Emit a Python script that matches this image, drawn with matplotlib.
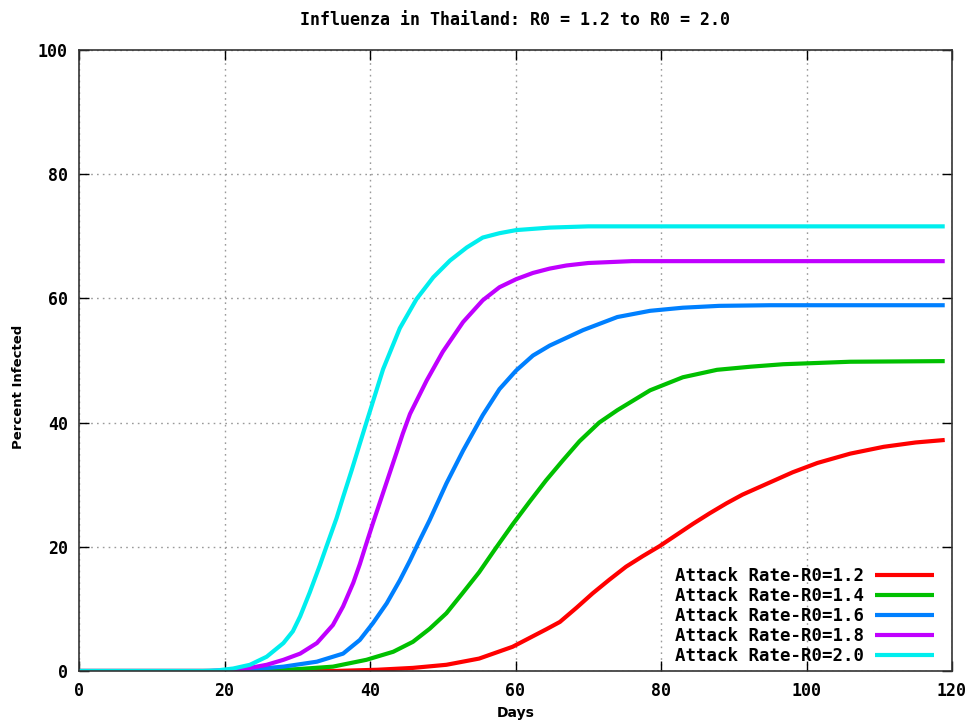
import matplotlib
matplotlib.use("Agg")
import matplotlib.pyplot as plt

title = "Influenza in Thailand: R0 = 1.2 to R0 = 2.0"
x_label = "Days"
y_label = "Percent Infected"
x_ticks = [0, 20, 40, 60, 80, 100, 120]
y_ticks = [0, 20, 40, 60, 80, 100]

labels = ["Attack Rate-R0=1.2", "Attack Rate-R0=1.4", "Attack Rate-R0=1.6",
          "Attack Rate-R0=1.8", "Attack Rate-R0=2.0"]
colors = ["#ff0000", "#00c000", "#0080ff", "#c000ff", "#00eeee"]

days_r12 = [0, 35, 41, 45.9, 50.5, 55, 59.6, 61.9, 64.2, 66.1, 68.4, 70.6, 72.9, 75.2, 77.5,
            79.8, 82.1, 84.4, 86.7, 89, 91.2, 93.5, 95.8, 98.1, 101.5, 106, 110.6, 115, 119]
vals_r12 = [0, 0, 0.2, 0.5, 1, 2, 3.9, 5.3, 6.7, 7.9, 10.2, 12.5, 14.7, 16.8, 18.5,
            20.1, 21.9, 23.7, 25.4, 27, 28.4, 29.6, 30.8, 32, 33.5, 35, 36.1, 36.8, 37.2]

days_r14 = [0, 25, 30, 34.9, 39.5, 43.2, 45.9, 48.2, 50.5, 52.7, 55, 57.3, 59.6, 61.9, 64.2,
            66.5, 68.8, 71.5, 74, 78.5, 83, 87.7, 92.3, 96.8, 106, 119]
vals_r14 = [0, 0, 0.3, 0.7, 1.8, 3.1, 4.7, 6.8, 9.3, 12.5, 15.9, 19.8, 23.6, 27.2, 30.7,
            33.9, 37.0, 40, 42, 45.2, 47.3, 48.5, 49, 49.4, 49.8, 49.9]

days_r16 = [0, 20, 24, 28.1, 32.7, 36.3, 38.6, 40.4, 42.3, 44.1, 45.5, 46.6, 48.2, 50.5, 52.8,
            55.5, 57.8, 60.1, 62.4, 64.7, 69.3, 74, 78.5, 83, 88, 95, 119]
vals_r16 = [0, 0, 0.3, 0.7, 1.5, 2.8, 5, 7.7, 10.9, 14.6, 17.8, 20.5, 24.3, 30.2, 35.5,
            41.2, 45.4, 48.4, 50.8, 52.4, 54.9, 57, 58, 58.5, 58.8, 58.9, 58.9]

days_r18 = [0, 18, 21, 23.5, 25.8, 28.1, 30.4, 32.7, 34.9, 36.3, 37.7, 38.6, 39.3, 40.4, 41.6,
            42.6, 43.6, 44.5, 45.5, 47.8, 50, 52.8, 55.5, 57.8, 60.1, 62.4, 64.7, 67, 70, 76, 119]
vals_r18 = [0, 0, 0.2, 0.5, 1, 1.8, 2.8, 4.5, 7.4, 10.4, 14.2, 17.2, 19.8, 23.8, 28,
            31.5, 35, 38.2, 41.4, 46.8, 51.4, 56.2, 59.7, 61.8, 63.1, 64.1, 64.8, 65.3, 65.7, 66, 66]

days_r20 = [0, 17, 19, 21.2, 23.5, 25.8, 28.1, 29.4, 30.4, 31.7, 33.1, 34, 35.4, 36.3, 37.5,
            38.6, 39.5, 41.8, 44.1, 46.4, 48.7, 51, 53.3, 55.5, 57.8, 60.1, 64.7, 70, 119]
vals_r20 = [0, 0, 0.1, 0.4, 1, 2.3, 4.5, 6.4, 8.8, 12.6, 17, 20, 24.6, 28, 32.4,
            36.6, 40, 48.6, 55.2, 59.9, 63.4, 66.1, 68.2, 69.8, 70.5, 71, 71.4, 71.6, 71.6]

series = [(days_r12, vals_r12), (days_r14, vals_r14), (days_r16, vals_r16),
          (days_r18, vals_r18), (days_r20, vals_r20)]

mono = "DejaVu Sans Mono"

fig = plt.figure(figsize=(9.76, 7.24), dpi=100)
ax = fig.add_axes([79 / 976, 1 - 671 / 724, (952 - 79) / 976, (671 - 50) / 724])

for (d, v), lab, c in zip(series, labels, colors):
    ax.plot(d, v, color=c, lw=3.0, label=lab, solid_capstyle="butt", solid_joinstyle="round")

ax.set_xlim(0, 120)
ax.set_ylim(0, 100)
ax.set_xticks(x_ticks)
ax.set_yticks(y_ticks)
ax.grid(True, color="#9a9a9a", linestyle=(0, (1.2, 3)), linewidth=1.0)
ax.tick_params(direction="in", length=7, width=1, top=True, right=True,
               labelsize=12, pad=8, colors="black")
for lab in ax.get_xticklabels() + ax.get_yticklabels():
    lab.set_fontfamily(mono)
    lab.set_fontweight("bold")
for s in ax.spines.values():
    s.set_color("#333333")
    s.set_linewidth(1.2)

ax.set_title(title, fontfamily=mono, fontweight="bold", fontsize=12, pad=18)
ax.set_xlabel(x_label, fontfamily="DejaVu Sans", fontweight="bold", fontsize=10, labelpad=4)
ax.set_ylabel(y_label, fontfamily="DejaVu Sans", fontweight="bold", fontsize=9.5)
ax.yaxis.set_label_coords(-0.062, 0.457)

leg = ax.legend(loc="lower right", bbox_to_anchor=(0.986, 0.0), frameon=False,
                markerfirst=False, handlelength=3.4, handletextpad=0.6,
                labelspacing=0.12, borderaxespad=0.05, borderpad=0.3,
                prop={"family": mono, "weight": "bold", "size": 12.5})

fig.savefig("out.png", dpi=100)
